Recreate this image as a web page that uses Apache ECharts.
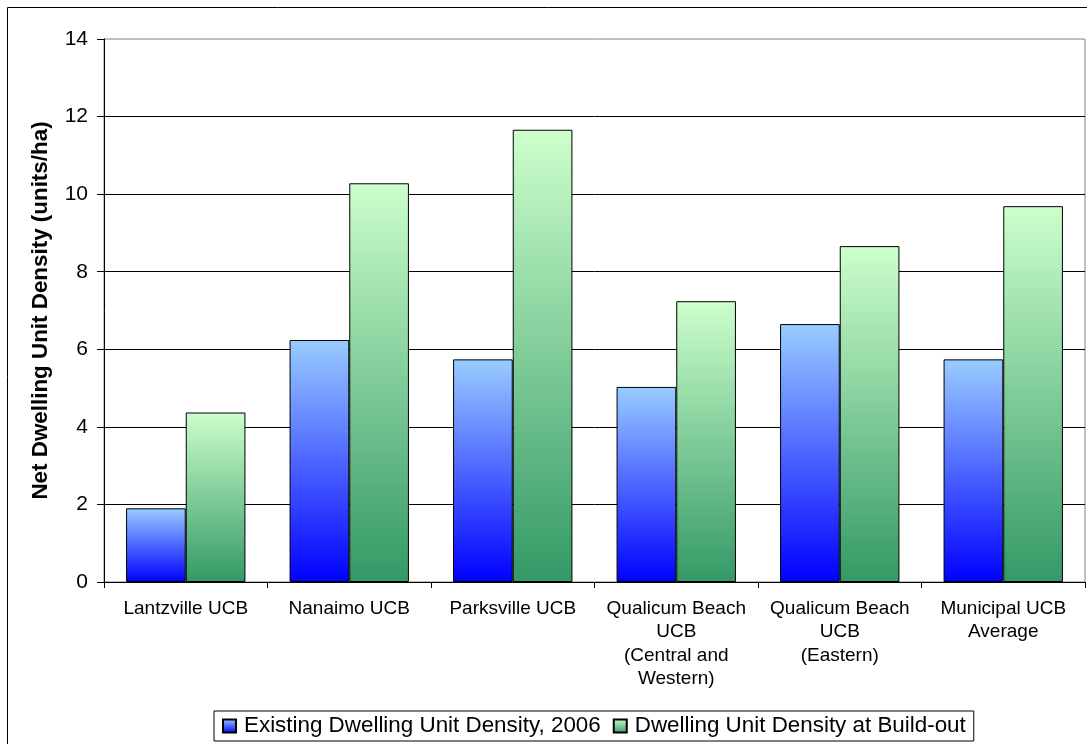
<!DOCTYPE html>
<html>
<head>
<meta charset="utf-8">
<script src="https://cdn.jsdelivr.net/npm/echarts@6/dist/echarts.min.js"></script>
<style>
  html, body { margin: 0; padding: 0; background: #fff; }
  #chart { width: 1087px; height: 744px; }
</style>
</head>
<body>
<div id="chart"></div>
<script>
// Urban containment boundary areas
const categories = [
  'Lantzville UCB',
  'Nanaimo UCB',
  'Parksville UCB',
  'Qualicum Beach\nUCB\n(Central and\nWestern)',
  'Qualicum Beach\nUCB\n(Eastern)',
  'Municipal UCB\nAverage'
];

// Net dwelling unit density (units/ha)
const existing2006 = [1.90, 6.24, 5.74, 5.03, 6.65, 5.74];
const buildOut = [4.37, 10.28, 11.66, 7.24, 8.66, 9.69];

const seriesNames = ['Existing Dwelling Unit Density, 2006', 'Dwelling Unit Density at Build-out'];

const yTicks = { min: 0, max: 14, interval: 2 };

const FONT = '"Liberation Sans", Arial, sans-serif';

function vGrad(top, bottom) {
  return new echarts.graphic.LinearGradient(0, 0, 0, 1, [
    { offset: 0, color: top },
    { offset: 1, color: bottom }
  ]);
}

const chart = echarts.init(document.getElementById('chart'), null, { renderer: 'canvas' });

chart.setOption({
  animation: false,
  backgroundColor: '#fff',
  textStyle: { fontFamily: FONT, color: '#000' },
  graphic: [{
    type: 'rect',
    silent: true,
    shape: { x: 7.5, y: 7.5, width: 1200, height: 1000 },
    style: { fill: 'none', stroke: '#000', lineWidth: 1 }
  }],
  grid: {
    left: 104, right: 2, top: 39, bottom: 162,
    show: true, borderColor: '#808080', borderWidth: 1, backgroundColor: 'transparent'
  },
  legend: {
    left: 214, top: 711,
    padding: [4, 8, 4, 8],
    itemGap: 12,
    itemWidth: 13, itemHeight: 13,
    icon: 'rect',
    borderColor: '#000', borderWidth: 1, borderRadius: 0,
    textStyle: { fontFamily: FONT, fontSize: 22.4, color: '#000', padding: [0, 0, 0, 3] },
    data: seriesNames
  },
  xAxis: {
    type: 'category',
    data: categories,
    axisLine: { show: true, lineStyle: { color: '#000', width: 1 } },
    axisTick: { show: true, length: 6, lineStyle: { color: '#000' } },
    axisLabel: {
      interval: 0, margin: 15, fontFamily: FONT, fontSize: 19, lineHeight: 23.5,
      color: '#000', align: 'center'
    },
    splitLine: { show: false }
  },
  yAxis: {
    type: 'value',
    min: yTicks.min, max: yTicks.max, interval: yTicks.interval,
    name: 'Net Dwelling Unit Density (units/ha)',
    nameLocation: 'middle',
    nameGap: 52,
    nameTextStyle: { fontFamily: FONT, fontSize: 22.4, fontWeight: 'bold', color: '#000' },
    axisLine: { show: true, lineStyle: { color: '#000', width: 1 } },
    axisTick: { show: true, length: 7, inside: false, lineStyle: { color: '#000' } },
    axisLabel: { margin: 16, fontFamily: FONT, fontSize: 21, color: '#000' },
    splitLine: { show: true, showMaxLine: false, lineStyle: { color: '#000', width: 1 } }
  },
  series: [
    {
      name: seriesNames[0],
      type: 'bar',
      data: existing2006,
      barGap: '0%',
      barCategoryGap: '27%',
      itemStyle: { color: vGrad('#99CCFF', '#0000FF'), borderColor: '#000', borderWidth: 1 }
    },
    {
      name: seriesNames[1],
      type: 'bar',
      data: buildOut,
      barGap: '0%',
      barCategoryGap: '27%',
      itemStyle: { color: vGrad('#CCFFCC', '#339966'), borderColor: '#000', borderWidth: 1 }
    }
  ]
});
</script>
</body>
</html>
